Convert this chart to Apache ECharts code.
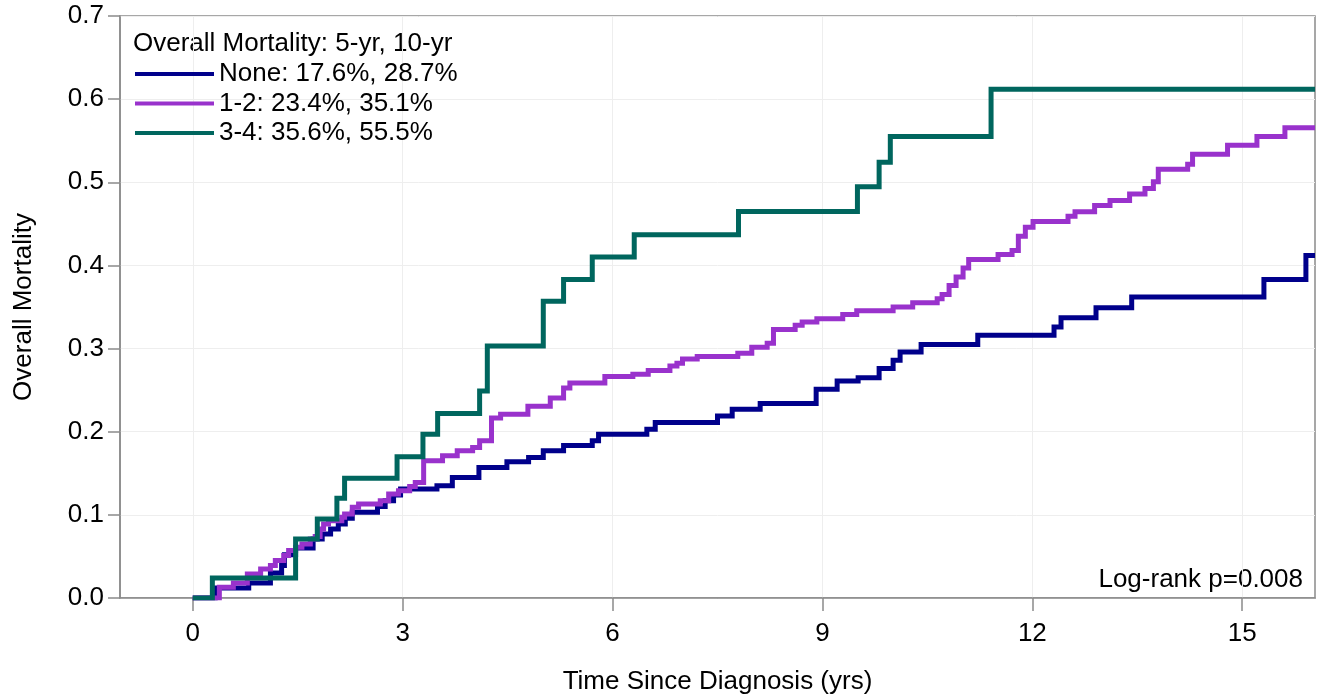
<!DOCTYPE html>
<html>
<head>
<meta charset="utf-8">
<script src="https://cdn.jsdelivr.net/npm/echarts@6/dist/echarts.min.js"></script>
<style>html,body{margin:0;padding:0;background:#fff}#c{width:1329px;height:700px}</style>
</head>
<body>
<div id="c"></div>
<script>
// ---- data ----
var xTicks = [0, 3, 6, 9, 12, 15];
var seriesNames = ['None: 17.6%, 28.7%', '1-2: 23.4%, 35.1%', '3-4: 35.6%, 55.5%'];
var legendTitle = 'Overall Mortality: 5-yr, 10-yr';
var pText = 'Log-rank p=0.008';

var noneT = [0, 0.32, 0.80, 1.11, 1.27, 1.31, 1.47, 1.72, 1.85, 1.97, 2.08, 2.18, 2.28, 2.64, 2.75, 2.87, 2.97, 3.49, 3.71, 4.09, 4.49, 4.80, 5.01, 5.30, 5.71, 5.80, 6.49, 6.61, 7.50, 7.71, 8.11, 8.91, 9.21, 9.51, 9.81, 10.01, 10.11, 10.41, 11.22, 12.31, 12.41, 12.91, 13.42, 15.31, 15.91, 16.04];
var noneV = [0, 0.012, 0.018, 0.030, 0.039, 0.052, 0.060, 0.071, 0.077, 0.083, 0.089, 0.096, 0.103, 0.110, 0.117, 0.124, 0.131, 0.135, 0.145, 0.157, 0.164, 0.169, 0.177, 0.1835, 0.189, 0.197, 0.203, 0.211, 0.219, 0.227, 0.234, 0.251, 0.261, 0.265, 0.276, 0.286, 0.296, 0.305, 0.316, 0.326, 0.337, 0.349, 0.362, 0.383, 0.412, 0.412];

var midT = [0, 0.38, 0.58, 0.78, 0.97, 1.11, 1.18, 1.30, 1.37, 1.47, 1.56, 1.68, 1.75, 1.82, 1.87, 1.94, 2.13, 2.17, 2.28, 2.37, 2.68, 2.80, 2.94, 3.10, 3.18, 3.30, 3.57, 3.78, 4.00, 4.10, 4.27, 4.40, 4.79, 5.11, 5.30, 5.39, 5.89, 6.29, 6.51, 6.82, 6.92, 7.00, 7.21, 7.79, 7.99, 8.21, 8.30, 8.61, 8.71, 8.92, 9.29, 9.49, 10.01, 10.29, 10.64, 10.71, 10.81, 10.91, 11.01, 11.09, 11.51, 11.71, 11.80, 11.90, 12.01, 12.51, 12.61, 12.89, 13.11, 13.39, 13.61, 13.73, 13.80, 14.22, 14.29, 14.79, 15.21, 15.61, 16.04];
var midV = [0, 0.013, 0.018, 0.029, 0.035, 0.039, 0.045, 0.051, 0.057, 0.061, 0.065, 0.071, 0.074, 0.083, 0.089, 0.093, 0.097, 0.101, 0.109, 0.113, 0.117, 0.125, 0.129, 0.134, 0.139, 0.165, 0.171, 0.177, 0.181, 0.189, 0.2166, 0.221, 0.2306, 0.2406, 0.2525, 0.2585, 0.2665, 0.269, 0.2737, 0.279, 0.2824, 0.2876, 0.2904, 0.2944, 0.3015, 0.3063, 0.323, 0.328, 0.332, 0.336, 0.341, 0.3455, 0.350, 0.355, 0.360, 0.365, 0.376, 0.386, 0.397, 0.407, 0.413, 0.418, 0.435, 0.446, 0.4527, 0.459, 0.4647, 0.472, 0.478, 0.486, 0.4926, 0.5006, 0.5157, 0.5217, 0.5337, 0.5445, 0.555, 0.5656, 0.5656];

var highT = [0, 0.28, 1.47, 1.78, 2.06, 2.17, 2.92, 3.29, 3.50, 4.10, 4.21, 5.01, 5.30, 5.71, 6.31, 7.80, 9.50, 9.81, 9.97, 11.41, 16.04];
var highV = [0, 0.024, 0.071, 0.095, 0.120, 0.144, 0.170, 0.197, 0.222, 0.249, 0.303, 0.357, 0.383, 0.410, 0.437, 0.465, 0.4945, 0.524, 0.555, 0.612, 0.612];

var colors = ['#00008B', '#9932CC', '#00665E'];

function pairs(t, v) { return t.map(function (x, i) { return [x, v[i]]; }); }

var FONT = '"Liberation Sans", Arial, sans-serif';
var FS = 26;
var chart = echarts.init(document.getElementById('c'), null, {renderer: 'canvas'});

var series = [[noneT, noneV], [midT, midV], [highT, highV]].map(function (d, i) {
  return {
    name: seriesNames[i],
    type: 'line',
    step: 'end',
    symbol: 'none',
    data: pairs(d[0], d[1]),
    lineStyle: {color: colors[i], width: 5, join: 'miter', cap: 'butt'},
    itemStyle: {color: colors[i]},
    z: 3 + i,
    animation: false
  };
});

chart.setOption({
  animation: false,
  backgroundColor: '#fff',
  textStyle: {fontFamily: FONT},
  grid: {left: 120, right: 14, top: 16, bottom: 98, show: true, borderColor: '#8a8a8a', borderWidth: 1.5, containLabel: false},
  legend: {
    orient: 'vertical', left: 130, top: 56, itemWidth: 79, itemHeight: 4, itemGap: 3.5,
    icon: 'rect', selectedMode: false,
    textStyle: {fontFamily: FONT, fontSize: FS, color: '#000', lineHeight: 26},
    data: seriesNames
  },
  xAxis: {
    type: 'value', min: -1.04, max: 16.04,
    name: 'Time Since Diagnosis (yrs)', nameLocation: 'middle', nameGap: 71,
    nameTextStyle: {fontFamily: FONT, fontSize: FS, color: '#000'},
    axisLine: {show: true, onZero: false, lineStyle: {color: '#8a8a8a', width: 1.5}},
    axisTick: {show: true, length: 13, customValues: xTicks, lineStyle: {color: '#8a8a8a', width: 1.5}},
    axisLabel: {customValues: xTicks, margin: 23, fontFamily: FONT, fontSize: FS, color: '#000'},
    splitLine: {show: true, lineStyle: {color: '#eeeeee', width: 1}}
  },
  yAxis: {
    type: 'value', min: 0, max: 0.7, interval: 0.1,
    name: 'Overall Mortality', nameLocation: 'middle', nameGap: 83,
    nameTextStyle: {fontFamily: FONT, fontSize: FS, color: '#000'},
    axisLine: {show: true, onZero: false, lineStyle: {color: '#8a8a8a', width: 1.5}},
    axisTick: {show: true, length: 12, lineStyle: {color: '#8a8a8a', width: 1.5}},
    axisLabel: {margin: 16, fontFamily: FONT, fontSize: FS, color: '#000', formatter: function (v) { return v.toFixed(1); }},
    splitLine: {show: true, lineStyle: {color: '#eeeeee', width: 1}}
  },
  graphic: [
    {type: 'text', left: 133, top: 31, style: {text: legendTitle, font: FS + 'px ' + FONT, fill: '#000'}},
    {type: 'text', right: 26, top: 567, style: {text: pText, font: FS + 'px ' + FONT, fill: '#000'}}
  ],
  series: series
});
</script>
</body>
</html>
